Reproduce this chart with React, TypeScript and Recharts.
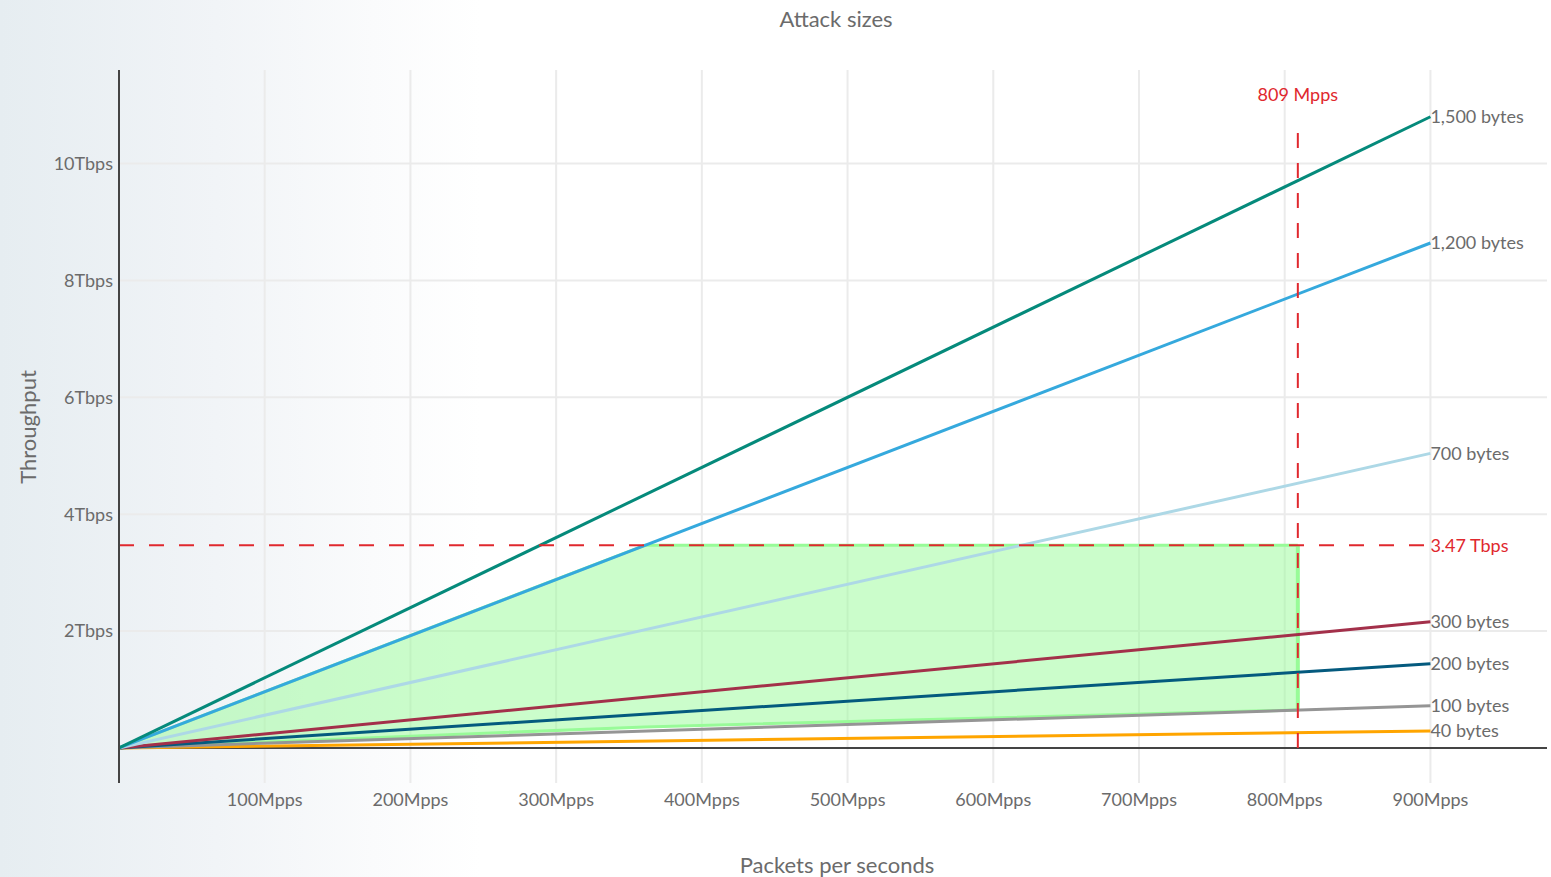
import {
  ComposedChart,
  Line,
  Area,
  XAxis,
  YAxis,
  CartesianGrid,
  ReferenceLine,
  LabelList,
} from "recharts";

// x: packets per second (Mpps), y: throughput (Tbps)
const lineRates = [0, 900];
const tbps1500 = [0, 10.8];
const tbps1200 = [0, 8.64];
const tbps700 = [0, 5.04];
const tbps300 = [0, 2.16];
const tbps200 = [0, 1.44];
const tbps100 = [0, 0.72];
const tbps40 = [0, 0.29];

// feasible region (green)
const regionRates = [0, 361, 809];
const regionLow = [0, 0.36, 0.65];
const regionHigh = [0, 3.47, 3.47];

const xTicks = [100, 200, 300, 400, 500, 600, 700, 800, 900];
const yTicks = [2, 4, 6, 8, 10];

const limitPps = 809;
const limitTbps = 3.47;

const FONT = "Lato, 'Open Sans', sans-serif";
const TEXT = "#6b6b6b";
const RED = "#e0282e";

const series = [
  { name: "40 bytes", values: tbps40, color: "#ffa500" },
  { name: "100 bytes", values: tbps100, color: "#959595" },
  { name: "200 bytes", values: tbps200, color: "#045a7e" },
  { name: "300 bytes", values: tbps300, color: "#a3304a" },
  { name: "700 bytes", values: tbps700, color: "#add8e6" },
  { name: "1,200 bytes", values: tbps1200, color: "#35a9dd" },
  { name: "1,500 bytes", values: tbps1500, color: "#058a7b" },
];

const regionData = regionRates.map((pps, i) => ({
  pps,
  range: [regionLow[i], regionHigh[i]],
}));

function endLabel(text: string) {
  return (props: any) => {
    if (props.index !== lineRates.length - 1) return null;
    return (
      <text
        x={props.x}
        y={props.y}
        dy="0.35em"
        fill={TEXT}
        fontSize={18}
        fontFamily={FONT}
      >
        {text}
      </text>
    );
  };
}

export default function App() {
  return (
    <div
      style={{
        position: "absolute",
        left: 0,
        top: 0,
        width: 1551,
        height: 877,
        fontFamily: FONT,
        background:
          "linear-gradient(to right, #e6edf1 0%, #f1f4f7 14%, #fafbfc 24%, #ffffff 31%)",
      }}
    >
      <div
        style={{
          position: "absolute",
          left: 836,
          top: 18,
          transform: "translate(-50%, -50%)",
          fontSize: 22,
          color: TEXT,
          whiteSpace: "nowrap",
        }}
      >
        Attack sizes
      </div>
      <div
        style={{
          position: "absolute",
          left: 837,
          top: 864,
          transform: "translate(-50%, -50%)",
          fontSize: 22,
          color: TEXT,
          whiteSpace: "nowrap",
        }}
      >
        Packets per seconds
      </div>
      <div
        style={{
          position: "absolute",
          left: 27,
          top: 427,
          transform: "translate(-50%, -50%) rotate(-90deg)",
          fontSize: 22,
          color: TEXT,
          whiteSpace: "nowrap",
        }}
      >
        Throughput
      </div>

      <ComposedChart
        width={1551}
        height={877}
        margin={{ top: 70, right: 4, left: 0, bottom: 0 }}
        style={{ position: "absolute", left: 0, top: 0 }}
      >
        <CartesianGrid
          stroke="#ebebeb"
          strokeWidth={2}
          horizontalValues={yTicks}
          verticalValues={xTicks}
        />
        <XAxis
          dataKey="pps"
          type="number"
          domain={[0, 980]}
          ticks={xTicks}
          interval={0}
          allowDataOverflow
          height={94}
          axisLine={false}
          tickLine={false}
          tickSize={0}
          tickMargin={10}
          tickFormatter={(v) => `${v}Mpps`}
          tick={{ fill: TEXT, fontSize: 18, fontFamily: FONT }}
        />
        <YAxis
          type="number"
          domain={[-0.6, 11.6]}
          ticks={yTicks}
          interval={0}
          allowDataOverflow
          width={119}
          axisLine={{ stroke: "#444", strokeWidth: 2 }}
          tickLine={false}
          tickSize={0}
          tickMargin={6}
          tickFormatter={(v) => `${v}Tbps`}
          tick={{ fill: TEXT, fontSize: 18, fontFamily: FONT }}
        />

        <ReferenceLine y={0} stroke="#444" strokeWidth={2} />

        <Area
          data={regionData}
          dataKey="range"
          type="linear"
          stroke="#98fb98"
          strokeWidth={3}
          fill="#98fb98"
          fillOpacity={0.5}
          isAnimationActive={false}
          activeDot={false}
          dot={false}
        />
        <ReferenceLine
          segment={[
            { x: limitPps, y: regionLow[2] },
            { x: limitPps, y: regionHigh[2] },
          ]}
          stroke="#98fb98"
          strokeWidth={4}
        />

        {series.map((s) => (
          <Line
            key={s.name}
            data={lineRates.map((pps, i) => ({ pps, tbps: s.values[i] }))}
            dataKey="tbps"
            type="linear"
            stroke={s.color}
            strokeWidth={3}
            dot={false}
            activeDot={false}
            isAnimationActive={false}
          >
            <LabelList dataKey="tbps" content={endLabel(s.name)} />
          </Line>
        ))}

        <ReferenceLine
          segment={[
            { x: 0, y: limitTbps },
            { x: 900, y: limitTbps },
          ]}
          stroke={RED}
          strokeWidth={2}
          strokeDasharray="15 15"
          label={{
            value: "3.47 Tbps",
            position: "right",
            offset: 0,
            fill: RED,
            fontSize: 18,
            fontFamily: FONT,
          }}
        />
        <ReferenceLine
          segment={[
            { x: limitPps, y: 0 },
            { x: limitPps, y: 10.7 },
          ]}
          stroke={RED}
          strokeWidth={2}
          strokeDasharray="15 15"
          label={{
            value: "809 Mpps",
            position: "top",
            offset: 22,
            fill: RED,
            fontSize: 18,
            fontFamily: FONT,
          }}
        />
      </ComposedChart>
    </div>
  );
}
